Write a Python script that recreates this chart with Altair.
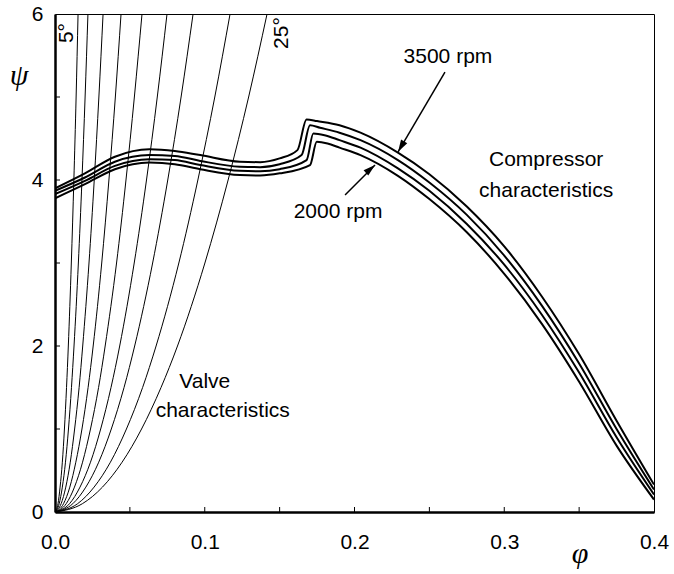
import altair as alt
import pandas as pd

# ---------------- data ----------------
# valve characteristics: phi at fixed psi levels, one list per throttle angle
valve_psi = [0, 0.1, 0.3, 0.6, 1, 1.5, 2, 3, 4, 5, 6]
valve_5 = [0, 0.0020, 0.0034, 0.0049, 0.0063, 0.0077, 0.0089, 0.0109, 0.0126, 0.0141, 0.0154]
valve_7_5 = [0, 0.0028, 0.0049, 0.0070, 0.0090, 0.0110, 0.0127, 0.0156, 0.0180, 0.0201, 0.0220]
valve_10 = [0, 0.0041, 0.0072, 0.0102, 0.0131, 0.0161, 0.0185, 0.0227, 0.0262, 0.0293, 0.0321]
valve_12_5 = [0, 0.0057, 0.0099, 0.0139, 0.0180, 0.0221, 0.0255, 0.0312, 0.0360, 0.0403, 0.0441]
valve_15 = [0, 0.0075, 0.0130, 0.0184, 0.0237, 0.0291, 0.0335, 0.0411, 0.0474, 0.0530, 0.0581]
valve_17_5 = [0, 0.0097, 0.0167, 0.0237, 0.0305, 0.0374, 0.0432, 0.0529, 0.0611, 0.0683, 0.0748]
valve_20 = [0, 0.0119, 0.0206, 0.0292, 0.0376, 0.0461, 0.0532, 0.0652, 0.0753, 0.0842, 0.0922]
valve_22_5 = [0, 0.0151, 0.0261, 0.0370, 0.0477, 0.0585, 0.0675, 0.0827, 0.0954, 0.1067, 0.1169]
valve_25 = [0, 0.0183, 0.0317, 0.0448, 0.0578, 0.0708, 0.0818, 0.1001, 0.1156, 0.1293, 0.1416]
valve_angles = ["5", "7.5", "10", "12.5", "15", "17.5", "20", "22.5", "25"]
valve_phis = [valve_5, valve_7_5, valve_10, valve_12_5, valve_15, valve_17_5,
              valve_20, valve_22_5, valve_25]

# compressor characteristics (4 speeds)
comp_phi_3500 = [0, 0.02, 0.04, 0.063, 0.08, 0.097, 0.1235, 0.137, 0.150, 0.1619, 0.168, 0.175,
                 0.19, 0.204, 0.229, 0.25, 0.275, 0.30, 0.325, 0.35, 0.375, 0.4]
comp_psi_3500 = [3.90, 4.08, 4.28, 4.37, 4.35, 4.30, 4.22, 4.215, 4.26, 4.36, 4.73, 4.71,
                 4.66, 4.57, 4.33, 4.07, 3.68, 3.20, 2.60, 1.90, 1.10, 0.33]
comp_phi_3000 = [0, 0.02, 0.04, 0.063, 0.08, 0.097, 0.1235, 0.137, 0.150, 0.1647, 0.1703, 0.177,
                 0.19, 0.204, 0.229, 0.25, 0.275, 0.30, 0.325, 0.35, 0.375, 0.4]
comp_psi_3000 = [3.87, 4.03, 4.22, 4.30, 4.29, 4.23, 4.16, 4.155, 4.19, 4.30, 4.66, 4.63,
                 4.57, 4.48, 4.24, 3.97, 3.58, 3.09, 2.49, 1.79, 1.00, 0.27]
comp_phi_2500 = [0, 0.02, 0.04, 0.063, 0.08, 0.097, 0.1235, 0.137, 0.150, 0.168, 0.1725, 0.18,
                 0.19, 0.204, 0.229, 0.25, 0.275, 0.30, 0.325, 0.35, 0.375, 0.4]
comp_psi_2500 = [3.83, 3.99, 4.17, 4.25, 4.24, 4.18, 4.11, 4.105, 4.13, 4.24, 4.56, 4.54,
                 4.48, 4.39, 4.14, 3.87, 3.47, 2.98, 2.38, 1.68, 0.90, 0.21]
comp_phi_2000 = [0, 0.02, 0.04, 0.063, 0.08, 0.097, 0.1235, 0.137, 0.150, 0.1703, 0.1748, 0.182,
                 0.19, 0.204, 0.229, 0.25, 0.275, 0.30, 0.325, 0.35, 0.375, 0.4]
comp_psi_2000 = [3.78, 3.95, 4.13, 4.21, 4.19, 4.13, 4.06, 4.055, 4.08, 4.18, 4.46, 4.44,
                 4.39, 4.30, 4.05, 3.77, 3.37, 2.87, 2.27, 1.57, 0.80, 0.15]
comp_speeds = ["3500", "3000", "2500", "2000"]
comp_phis = [comp_phi_3500, comp_phi_3000, comp_phi_2500, comp_phi_2000]
comp_psis = [comp_psi_3500, comp_psi_3000, comp_psi_2500, comp_psi_2000]

x_minor_ticks = [0.05, 0.1, 0.15, 0.2, 0.25, 0.3, 0.35]
y_minor_ticks = [1, 2, 3, 4, 5]
x_labels = [0.0, 0.1, 0.2, 0.3, 0.4]
y_labels = [0, 2, 4, 6]

# annotations (text, phi, psi)
ann_text = ["3500 rpm", "2000 rpm", "Compressor", "characteristics", "Valve", "characteristics"]
ann_phi = [0.2624, 0.189, 0.328, 0.328, 0.100, 0.112]
ann_psi = [5.48, 3.61, 4.24, 3.87, 1.57, 1.22]
angle_text = ["5°", "25°"]
angle_phi = [0.008, 0.1516]
angle_psi = [5.77, 5.77]
# arrows: start -> tip
arrow_phi = [0.2604, 0.1937]
arrow_psi = [5.30, 3.82]
arrow_phi2 = [0.2291, 0.2137]
arrow_psi2 = [4.34, 4.18]
arrow_angle = [210.4, 49.3]

# ---------------- build tables ----------------
vrows = []
for a, phis in zip(valve_angles, valve_phis):
    for i, (p, s) in enumerate(zip(phis, valve_psi)):
        vrows.append({"curve": a, "i": i, "phi": p, "psi": s})
valve_df = pd.DataFrame(vrows)

crows = []
for sp, phis, psis in zip(comp_speeds, comp_phis, comp_psis):
    for i, (p, s) in enumerate(zip(phis, psis)):
        crows.append({"curve": sp, "i": i, "phi": p, "psi": s})
comp_df = pd.DataFrame(crows)

ann_df = pd.DataFrame({"text": ann_text, "phi": ann_phi, "psi": ann_psi})
ang_df = pd.DataFrame({"text": angle_text, "phi": angle_phi, "psi": angle_psi})
arr_df = pd.DataFrame({"phi": arrow_phi, "psi": arrow_psi, "phi2": arrow_phi2,
                       "psi2": arrow_psi2, "angle": arrow_angle})
xt_df = pd.DataFrame({"phi": x_minor_ticks})
yt_df = pd.DataFrame({"psi": y_minor_ticks})

FONT = "Liberation Sans"
W, H = 599, 498

xs = alt.Scale(domain=[0, 0.4], nice=False, zero=False)
ys = alt.Scale(domain=[0, 6], nice=False, zero=False)
xaxis = alt.Axis(values=x_labels, format=".1f", title=None, grid=False, ticks=False,
                 tickSize=0, domainColor="black", domainWidth=2.5, labelFont=FONT,
                 labelFontSize=21, labelColor="black", labelPadding=19, labelFlush=False)
yaxis = alt.Axis(values=y_labels, format="d", title=None, grid=False, ticks=False,
                 tickSize=0, domainColor="black", domainWidth=2.5, labelFont=FONT,
                 labelFontSize=21, labelColor="black", labelPadding=12)


def X(field="phi"):
    return alt.X(f"{field}:Q", scale=xs, axis=xaxis)


def Y(field="psi"):
    return alt.Y(f"{field}:Q", scale=ys, axis=yaxis)


valve = alt.Chart(valve_df).mark_line(color="black", strokeWidth=1, interpolate="monotone",
                                       clip=True).encode(
    x=X(), y=Y(), detail="curve:N", order="i:Q")

comp = alt.Chart(comp_df).mark_line(color="black", strokeWidth=2, interpolate="monotone",
                                     clip=True).encode(
    x=X(), y=Y(), detail="curve:N", order="i:Q")

xticks = alt.Chart(xt_df).mark_rule(color="black", strokeWidth=1).encode(
    x=X(), y=alt.value(H), y2=alt.value(H - 5))
yticks = alt.Chart(yt_df).mark_rule(color="black", strokeWidth=1).encode(
    y=Y(), x=alt.value(0), x2=alt.value(5))

ann = alt.Chart(ann_df).mark_text(font=FONT, fontSize=21, color="black",
                                  align="center", baseline="middle").encode(
    x=X(), y=Y(), text="text:N")

ang = alt.Chart(ang_df).mark_text(font=FONT, fontSize=21, color="black", angle=270,
                                  align="center", baseline="middle").encode(
    x=X(), y=Y(), text="text:N")

arr_line = alt.Chart(arr_df).mark_rule(color="black", strokeWidth=1.5).encode(
    x=X(), y=Y(), x2="phi2:Q", y2="psi2:Q")
arr_head = alt.Chart(arr_df).mark_point(shape="M0,0L-1.2,4L1.2,4Z", size=36, filled=True,
                                        color="black", opacity=1).encode(
    x=X("phi2"), y=Y("psi2"), angle=alt.Angle("angle:Q", scale=None))

psi_label = alt.Chart(pd.DataFrame({"t": ["ψ"]})).mark_text(
    font="Liberation Serif", fontStyle="italic", fontSize=30, color="black",
    align="center", baseline="middle").encode(
    text="t:N", x=alt.value(-36), y=alt.value(62))
phi_label = alt.Chart(pd.DataFrame({"t": ["φ"]})).mark_text(
    font="Liberation Serif", fontStyle="italic", fontSize=30, color="black",
    align="center", baseline="middle").encode(
    text="t:N", x=alt.value(525), y=alt.value(540))

chart = alt.layer(valve, comp, xticks, yticks, ann, ang, arr_line, arr_head,
                  psi_label, phi_label).properties(
    width=W, height=H,
    autosize=alt.AutoSizeParams(type="none"),
    padding={"left": 55, "top": 14, "right": 20, "bottom": 62},
    background="white",
).configure_view(stroke="black", strokeWidth=1)

chart.save("out.html", embed_options={"renderer": "svg", "actions": False})
